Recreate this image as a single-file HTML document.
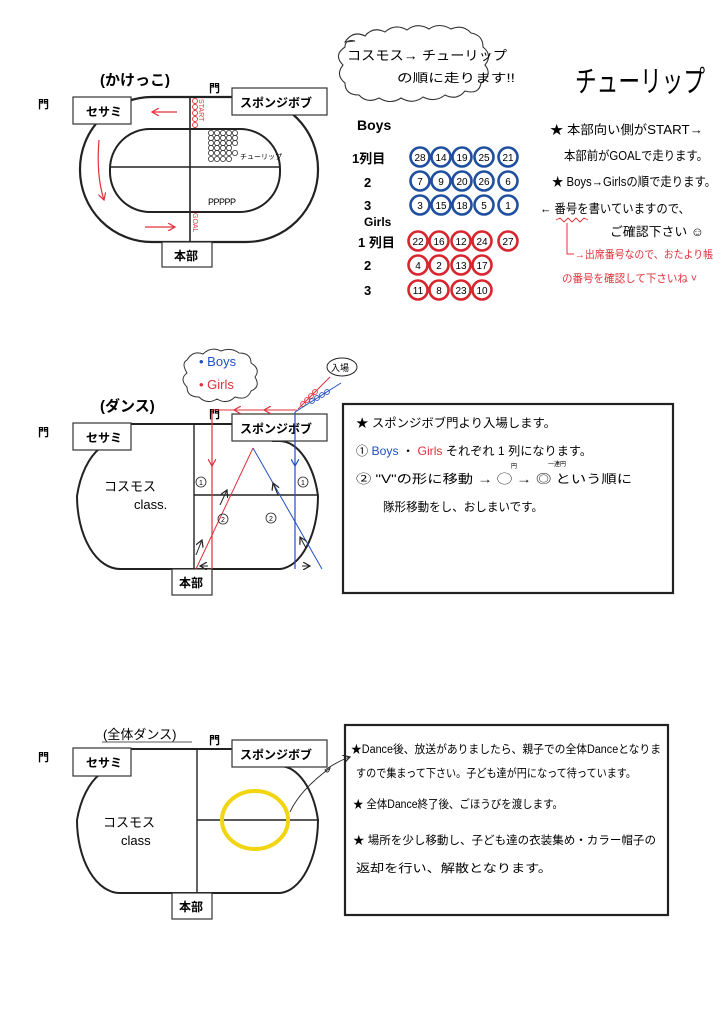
<!DOCTYPE html>
<html><head><meta charset="utf-8"><style>
html,body{margin:0;padding:0;background:#fff}
svg{display:block}
text{font-family:"Liberation Sans","Noto Sans CJK JP",sans-serif}
.b{font-weight:bold}
</style></head><body>
<svg width="724" height="1024" viewBox="0 0 724 1024" xmlns="http://www.w3.org/2000/svg">
<rect width="724" height="1024" fill="#fff"/>
<defs>
<marker id="ar" markerWidth="8" markerHeight="8" refX="7" refY="4" orient="auto" markerUnits="userSpaceOnUse"><path d="M0,0 L7,4 L0,8" fill="none" stroke="#e0303a" stroke-width="1.2"/></marker>
<marker id="ab" markerWidth="8" markerHeight="8" refX="7" refY="4" orient="auto" markerUnits="userSpaceOnUse"><path d="M0,0 L7,4 L0,8" fill="none" stroke="#2050c0" stroke-width="1.2"/></marker>
<marker id="ak" markerWidth="8" markerHeight="8" refX="7" refY="4" orient="auto" markerUnits="userSpaceOnUse"><path d="M0,0 L7,4 L0,8" fill="none" stroke="#222" stroke-width="1.2"/></marker>
</defs>

<!-- ===== Section 1 ===== -->
<text x="100" y="85" font-size="15" class="b">(かけっこ)</text>
<text x="38" y="108" font-size="11" class="b">門</text>
<text x="209" y="92" font-size="11" class="b">門</text>
<rect x="80" y="97" width="238" height="145" rx="72" fill="none" stroke="#222" stroke-width="2.2"/>
<rect x="110" y="129" width="170" height="83" rx="40" fill="#fff" stroke="#222" stroke-width="2"/>
<line x1="190" y1="97" x2="190" y2="242" stroke="#222" stroke-width="1.6"/>
<line x1="110" y1="167" x2="280" y2="167" stroke="#222" stroke-width="1.4"/>
<rect x="73" y="97" width="58" height="27" fill="#fff" stroke="#333" stroke-width="1.2"/>
<text x="86" y="116" font-size="12" class="b">セサミ</text>
<rect x="232" y="88" width="95" height="27" fill="#fff" stroke="#333" stroke-width="1.2"/>
<text x="240" y="107" font-size="12" class="b">スポンジボブ</text>
<rect x="162" y="242" width="50" height="25" fill="#fff" stroke="#333" stroke-width="1.2"/>
<text x="174" y="260" font-size="12" class="b">本部</text>
<g fill="none" stroke="#e0303a" stroke-width="0.9">
<circle cx="195" cy="101" r="2.5"/><circle cx="195" cy="107" r="2.5"/><circle cx="195" cy="113" r="2.5"/><circle cx="195" cy="119" r="2.5"/><circle cx="195" cy="125" r="2.5"/>
</g>
<text font-size="7" fill="#e0303a" transform="translate(199,99) rotate(90)">START</text>
<text font-size="7" fill="#e0303a" transform="translate(193,213) rotate(90)">GOAL</text>
<line x1="177" y1="112" x2="152" y2="112" stroke="#e0303a" stroke-width="1.2" marker-end="url(#ar)"/>
<path d="M99,140 Q96,175 104,200" fill="none" stroke="#e0303a" stroke-width="1.2" marker-end="url(#ar)"/>
<line x1="145" y1="227" x2="175" y2="227" stroke="#e0303a" stroke-width="1.2" marker-end="url(#ar)"/>
<g fill="none" stroke="#333" stroke-width="0.8">
<circle cx="211" cy="133" r="2.6"/><circle cx="217" cy="133" r="2.6"/><circle cx="223" cy="133" r="2.6"/><circle cx="229" cy="133" r="2.6"/><circle cx="235" cy="133" r="2.6"/>
<circle cx="211" cy="138" r="2.6"/><circle cx="217" cy="138" r="2.6"/><circle cx="223" cy="138" r="2.6"/><circle cx="229" cy="138" r="2.6"/><circle cx="235" cy="138" r="2.6"/>
<circle cx="211" cy="143" r="2.6"/><circle cx="217" cy="143" r="2.6"/><circle cx="223" cy="143" r="2.6"/><circle cx="229" cy="143" r="2.6"/><circle cx="235" cy="143" r="2.6"/>
<circle cx="211" cy="148" r="2.6"/><circle cx="217" cy="148" r="2.6"/><circle cx="223" cy="148" r="2.6"/><circle cx="229" cy="148" r="2.6"/>
<circle cx="211" cy="153" r="2.6"/><circle cx="217" cy="153" r="2.6"/><circle cx="223" cy="153" r="2.6"/><circle cx="229" cy="153" r="2.6"/><circle cx="235" cy="153" r="2.6"/>
<circle cx="211" cy="159" r="2.6"/><circle cx="217" cy="159" r="2.6"/><circle cx="223" cy="159" r="2.6"/><circle cx="229" cy="159" r="2.6"/>
</g>
<text x="240" y="159" font-size="7">チューリップ</text>
<text x="208" y="205" font-size="9" letter-spacing="-0.5">PPPPP</text>

<!-- cloud -->
<path d="M345,42 q8,-12 20,-6 q8,-10 20,-4 q10,-9 22,-2 q10,-8 22,-1 q10,-7 22,0 q12,-5 20,4 q12,2 12,14 q10,8 2,18 q8,10 -4,18 q-2,12 -16,8 q-8,10 -20,4 q-10,8 -22,2 q-10,8 -22,1 q-10,7 -22,0 q-12,6 -20,-3 q-14,0 -14,-12 q-10,-8 -2,-18 q-10,-10 2,-18 q0,-8 10,-6 z" fill="#fff" stroke="#333" stroke-width="1.1"/>
<text x="347" y="60" font-size="13" textLength="160" lengthAdjust="spacingAndGlyphs">コスモス→ チューリップ</text>
<text x="397" y="82" font-size="12" textLength="118" lengthAdjust="spacingAndGlyphs">の順に走ります!!</text>
<text x="575" y="92" font-size="30" textLength="130" lengthAdjust="spacingAndGlyphs">チューリップ</text>

<!-- Boys/Girls table -->
<text x="357" y="130" font-size="14" class="b">Boys</text>
<text x="352" y="163" font-size="13" class="b">1列目</text>
<text x="364" y="187" font-size="13" class="b">2</text>
<text x="364" y="210" font-size="13" class="b">3</text>
<text x="364" y="226" font-size="12" class="b">Girls</text>
<text x="358" y="247" font-size="13" class="b">1 列目</text>
<text x="364" y="270" font-size="13" class="b">2</text>
<text x="364" y="295" font-size="13" class="b">3</text>
<g fill="#fff" stroke="#1f4f9e" stroke-width="2.6">
<circle cx="420" cy="157" r="9.5"/><circle cx="441" cy="157" r="9.5"/><circle cx="462" cy="157" r="9.5"/><circle cx="484" cy="157" r="9.5"/><circle cx="508" cy="157" r="9.5"/>
<circle cx="420" cy="181" r="9.5"/><circle cx="441" cy="181" r="9.5"/><circle cx="462" cy="181" r="9.5"/><circle cx="484" cy="181" r="9.5"/><circle cx="508" cy="181" r="9.5"/>
<circle cx="420" cy="205" r="9.5"/><circle cx="441" cy="205" r="9.5"/><circle cx="462" cy="205" r="9.5"/><circle cx="484" cy="205" r="9.5"/><circle cx="508" cy="205" r="9.5"/>
</g>
<g fill="#fff" stroke="#d8262e" stroke-width="2.6">
<circle cx="418" cy="241" r="9.5"/><circle cx="439" cy="241" r="9.5"/><circle cx="461" cy="241" r="9.5"/><circle cx="482" cy="241" r="9.5"/><circle cx="508" cy="241" r="9.5"/>
<circle cx="418" cy="265" r="9.5"/><circle cx="439" cy="265" r="9.5"/><circle cx="461" cy="265" r="9.5"/><circle cx="482" cy="265" r="9.5"/>
<circle cx="418" cy="290" r="9.5"/><circle cx="439" cy="290" r="9.5"/><circle cx="461" cy="290" r="9.5"/><circle cx="482" cy="290" r="9.5"/>
</g>
<g font-size="10" text-anchor="middle">
<text x="420" y="161">28</text><text x="441" y="161">14</text><text x="462" y="161">19</text><text x="484" y="161">25</text><text x="508" y="161">21</text>
<text x="420" y="185">7</text><text x="441" y="185">9</text><text x="462" y="185">20</text><text x="484" y="185">26</text><text x="508" y="185">6</text>
<text x="420" y="209">3</text><text x="441" y="209">15</text><text x="462" y="209">18</text><text x="484" y="209">5</text><text x="508" y="209">1</text>
<text x="418" y="245">22</text><text x="439" y="245">16</text><text x="461" y="245">12</text><text x="482" y="245">24</text><text x="508" y="245">27</text>
<text x="418" y="269">4</text><text x="439" y="269">2</text><text x="461" y="269">13</text><text x="482" y="269">17</text>
<text x="418" y="294">11</text><text x="439" y="294">8</text><text x="461" y="294">23</text><text x="482" y="294">10</text>
</g>
<g font-size="12.5">
<text x="550" y="134" textLength="153" lengthAdjust="spacingAndGlyphs">★ 本部向い側がSTART→</text>
<text x="564" y="160" textLength="144" lengthAdjust="spacingAndGlyphs">本部前がGOALで走ります。</text>
<text x="552" y="186" textLength="164" lengthAdjust="spacingAndGlyphs">★ Boys→Girlsの順で走ります。</text>
<text x="540" y="213" textLength="150" lengthAdjust="spacingAndGlyphs">← 番号を書いていますので、</text>
<text x="610" y="236" textLength="94" lengthAdjust="spacingAndGlyphs">ご確認下さい ☺</text>
</g>
<polyline points="556,220 560,218 564,222 568,218 572,222 576,218 580,222 584,218 588,220" fill="none" stroke="#e0303a" stroke-width="0.9"/>
<path d="M567,223 V254 H574" fill="none" stroke="#e0303a" stroke-width="1"/>
<g font-size="11" fill="#e0303a">
<text x="575" y="258" textLength="138" lengthAdjust="spacingAndGlyphs">→出席番号なので、おたより帳</text>
<text x="562" y="282" textLength="135" lengthAdjust="spacingAndGlyphs">の番号を確認して下さいね ˅</text>
</g>

<!-- ===== Section 2 ===== -->
<path d="M187,360 q6,-10 16,-6 q8,-8 18,-3 q10,-4 18,2 q12,0 12,10 q10,6 4,14 q6,10 -4,14 q-4,10 -16,6 q-8,8 -18,2 q-10,6 -18,-2 q-12,0 -12,-10 q-8,-8 0,-14 q-6,-10 0,-13 z" fill="#fff" stroke="#333" stroke-width="1"/>
<text x="199" y="366" font-size="13" fill="#2050c0">• Boys</text>
<text x="199" y="389" font-size="13" fill="#e0303a">• Girls</text>
<ellipse cx="342" cy="367" rx="15" ry="9" fill="#fff" stroke="#222" stroke-width="1"/>
<text x="331" y="371" font-size="9">入場</text>
<text x="100" y="411" font-size="15" class="b">(ダンス)</text>
<text x="38" y="436" font-size="11" class="b">門</text>
<text x="209" y="418" font-size="11" class="b">門</text>
<path d="M130,424 H240 M272,441 H280 A40,72 0 0 1 318,496 A40,74 0 0 1 280,569 H120 A43,73 0 0 1 77,496 A43,73 0 0 1 100,448" fill="none" stroke="#222" stroke-width="2"/>
<line x1="194" y1="424" x2="194" y2="569" stroke="#222" stroke-width="1.4"/>
<line x1="194" y1="495" x2="318" y2="495" stroke="#222" stroke-width="1.4"/>
<rect x="73" y="423" width="58" height="27" fill="#fff" stroke="#333" stroke-width="1.2"/>
<text x="86" y="442" font-size="12" class="b">セサミ</text>
<rect x="232" y="414" width="95" height="27" fill="#fff" stroke="#333" stroke-width="1.2"/>
<text x="240" y="433" font-size="12" class="b">スポンジボブ</text>
<rect x="172" y="569" width="40" height="26" fill="#fff" stroke="#333" stroke-width="1.2"/>
<text x="179" y="587" font-size="12" class="b">本部</text>
<text x="104" y="491" font-size="13">コスモス</text>
<text x="134" y="509" font-size="13">class.</text>
<line x1="330" y1="377" x2="298" y2="409" stroke="#e0303a" stroke-width="1"/>
<g fill="none" stroke="#e0303a" stroke-width="0.9"><circle cx="303" cy="404" r="2.4"/><circle cx="307" cy="400" r="2.4"/><circle cx="311" cy="396" r="2.4"/><circle cx="315" cy="392" r="2.4"/></g>
<line x1="297" y1="410" x2="212" y2="410" stroke="#e0303a" stroke-width="1.1"/>
<line x1="270" y1="410" x2="264" y2="410" stroke="#e0303a" marker-end="url(#ar)"/>
<line x1="240" y1="410" x2="234" y2="410" stroke="#e0303a" marker-end="url(#ar)"/>
<line x1="212" y1="410" x2="212" y2="569" stroke="#e0303a" stroke-width="1.2"/>
<line x1="212" y1="455" x2="212" y2="466" stroke="#e0303a" marker-end="url(#ar)"/>
<line x1="196" y1="569" x2="253" y2="448" stroke="#e0303a" stroke-width="1"/>
<line x1="341" y1="383" x2="295" y2="412" stroke="#2050c0" stroke-width="1"/>
<g fill="none" stroke="#2050c0" stroke-width="0.9"><circle cx="312" cy="401" r="2.4"/><circle cx="317" cy="398" r="2.4"/><circle cx="322" cy="395" r="2.4"/><circle cx="327" cy="392" r="2.4"/></g>
<line x1="295" y1="412" x2="295" y2="569" stroke="#2050c0" stroke-width="1.2"/>
<line x1="295" y1="455" x2="295" y2="466" stroke="#2050c0" marker-end="url(#ab)"/>
<line x1="253" y1="448" x2="322" y2="569" stroke="#2050c0" stroke-width="1"/>
<line x1="220" y1="505" x2="227" y2="490" stroke="#222" marker-end="url(#ak)"/>
<line x1="278" y1="495" x2="273" y2="483" stroke="#222" marker-end="url(#ak)"/>
<line x1="196" y1="555" x2="202" y2="540" stroke="#222" marker-end="url(#ak)"/>
<line x1="306" y1="548" x2="300" y2="537" stroke="#222" marker-end="url(#ak)"/>
<line x1="208" y1="566" x2="200" y2="566" stroke="#222" marker-end="url(#ak)"/>
<line x1="302" y1="566" x2="310" y2="566" stroke="#222" marker-end="url(#ak)"/>
<g fill="none" stroke="#222" stroke-width="0.8">
<circle cx="201" cy="482" r="5"/><circle cx="303" cy="482" r="5"/><circle cx="223" cy="519" r="5"/><circle cx="271" cy="518" r="5"/>
</g>
<g font-size="7" text-anchor="middle"><text x="201" y="485">1</text><text x="303" y="485">1</text><text x="223" y="522">2</text><text x="271" y="521">2</text></g>
<rect x="343" y="404" width="330" height="189" fill="none" stroke="#222" stroke-width="2.2"/>
<g font-size="12">
<text x="356" y="427" textLength="200" lengthAdjust="spacingAndGlyphs">★ スポンジボブ門より入場します。</text>
<text x="356" y="455" textLength="236" lengthAdjust="spacingAndGlyphs">① <tspan fill="#2050c0">Boys</tspan> ・ <tspan fill="#e0303a">Girls</tspan> それぞれ 1 列になります。</text>
<text x="356" y="483" textLength="276" lengthAdjust="spacingAndGlyphs">② "V"の形に移動 →  ◯ →  ◎  という順に</text>
<text x="383" y="511" textLength="160" lengthAdjust="spacingAndGlyphs">隊形移動をし、おしまいです。</text>
</g>
<text x="511" y="468" font-size="6">円</text>
<text x="548" y="466" font-size="6">一連円</text>

<!-- ===== Section 3 ===== -->
<text x="103" y="739" font-size="13">(全体ダンス)</text>
<line x1="102" y1="742" x2="192" y2="742" stroke="#222" stroke-width="0.8"/>
<text x="38" y="761" font-size="11" class="b">門</text>
<text x="209" y="744" font-size="11" class="b">門</text>
<path d="M130,749 H240 M272,766 H280 A40,72 0 0 1 318,820 A40,74 0 0 1 280,893 H120 A43,73 0 0 1 77,820 A43,73 0 0 1 100,774" fill="none" stroke="#222" stroke-width="2"/>
<line x1="197" y1="749" x2="197" y2="893" stroke="#222" stroke-width="1.4"/>
<line x1="197" y1="820" x2="318" y2="820" stroke="#222" stroke-width="1.4"/>
<rect x="73" y="748" width="58" height="28" fill="#fff" stroke="#333" stroke-width="1.2"/>
<text x="86" y="767" font-size="12" class="b">セサミ</text>
<rect x="232" y="740" width="95" height="27" fill="#fff" stroke="#333" stroke-width="1.2"/>
<text x="240" y="759" font-size="12" class="b">スポンジボブ</text>
<rect x="172" y="893" width="40" height="26" fill="#fff" stroke="#333" stroke-width="1.2"/>
<text x="179" y="911" font-size="12" class="b">本部</text>
<text x="103" y="827" font-size="13">コスモス</text>
<text x="121" y="845" font-size="13">class</text>
<ellipse cx="255" cy="820" rx="33" ry="29" fill="none" stroke="#f2d410" stroke-width="4"/>
<path d="M290,812 Q300,790 330,768 Q328,775 325,770 Q340,760 350,757" fill="none" stroke="#222" stroke-width="0.9" marker-end="url(#ak)"/>
<rect x="345" y="725" width="323" height="190" fill="none" stroke="#222" stroke-width="2.2"/>
<g font-size="11.5">
<text x="351" y="753" textLength="310" lengthAdjust="spacingAndGlyphs">★Dance後、放送がありましたら、親子での全体Danceとなりま</text>
<text x="356" y="777" textLength="280" lengthAdjust="spacingAndGlyphs">すので集まって下さい。子ども達が円になって待っています。</text>
<text x="353" y="808" textLength="210" lengthAdjust="spacingAndGlyphs">★ 全体Dance終了後、ごほうびを渡します。</text>
<text x="353" y="844" textLength="303" lengthAdjust="spacingAndGlyphs">★ 場所を少し移動し、子ども達の衣装集め・カラー帽子の</text>
<text x="356" y="872" textLength="196" lengthAdjust="spacingAndGlyphs">返却を行い、解散となります。</text>
</g>
</svg>
</body></html>
